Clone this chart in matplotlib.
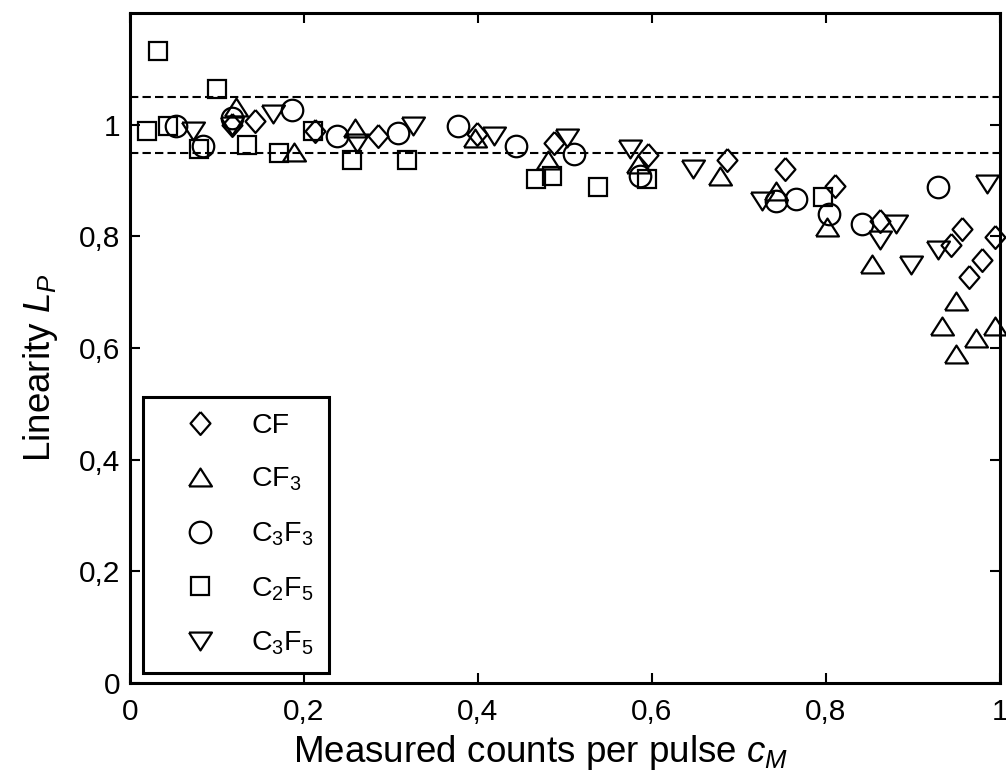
import matplotlib
matplotlib.use('Agg')
import matplotlib.pyplot as plt

plt.rcParams['font.family'] = ['Liberation Sans', 'DejaVu Sans']
plt.rcParams['mathtext.fontset'] = 'custom'
plt.rcParams['mathtext.rm'] = 'Liberation Sans'
plt.rcParams['mathtext.it'] = 'Liberation Sans:italic'

# data
cf_x = [0.118, 0.144, 0.213, 0.285, 0.399, 0.487, 0.596, 0.686, 0.753, 0.810, 0.862, 0.944, 0.956, 0.964, 0.979, 0.994]
cf_y = [1.000, 1.007, 0.988, 0.980, 0.984, 0.968, 0.945, 0.936, 0.921, 0.891, 0.828, 0.784, 0.813, 0.727, 0.757, 0.798]

cf3_x = [0.122, 0.189, 0.259, 0.397, 0.481, 0.584, 0.678, 0.743, 0.801, 0.853, 0.933, 0.950, 0.950, 0.973, 0.994]
cf3_y = [1.031, 0.952, 0.995, 0.977, 0.936, 0.930, 0.909, 0.882, 0.816, 0.751, 0.640, 0.589, 0.685, 0.617, 0.640]

c3f3_x = [0.053, 0.084, 0.117, 0.187, 0.238, 0.308, 0.377, 0.444, 0.510, 0.586, 0.743, 0.766, 0.803, 0.841, 0.929]
c3f3_y = [0.998, 0.962, 1.012, 1.026, 0.979, 0.986, 0.997, 0.962, 0.947, 0.909, 0.864, 0.867, 0.840, 0.822, 0.889]

c2f5_x = [0.032, 0.020, 0.044, 0.079, 0.100, 0.135, 0.171, 0.211, 0.255, 0.319, 0.467, 0.485, 0.538, 0.594, 0.797]
c2f5_y = [1.132, 0.988, 0.998, 0.956, 1.065, 0.964, 0.950, 0.989, 0.937, 0.936, 0.903, 0.909, 0.888, 0.903, 0.870]

c3f5_x = [0.073, 0.117, 0.165, 0.261, 0.326, 0.418, 0.502, 0.575, 0.647, 0.726, 0.862, 0.881, 0.898, 0.929, 0.985]
c3f5_y = [0.989, 0.998, 1.019, 0.968, 0.998, 0.980, 0.977, 0.956, 0.920, 0.864, 0.793, 0.822, 0.748, 0.776, 0.894]

labels = ['CF', 'CF$_3$', 'C$_3$F$_3$', 'C$_2$F$_5$', 'C$_3$F$_5$']
xticks = [0, 0.2, 0.4, 0.6, 0.8, 1]
xticklabels = ['0', '0,2', '0,4', '0,6', '0,8', '1']
yticks = [0, 0.2, 0.4, 0.6, 0.8, 1]
yticklabels = ['0', '0,2', '0,4', '0,6', '0,8', '1']
limits = [0.95, 1.05]

# matlab-ish marker shapes
diamond = [(0, 1), (0.87, 0), (0, -1), (-0.87, 0), (0, 1)]
tri_up = [(-1, -0.78), (1, -0.78), (0, 0.78), (-1, -0.78)]
tri_dn = [(-1, 0.78), (1, 0.78), (0, -0.78), (-1, 0.78)]

fig = plt.figure(figsize=(10.06, 7.75), dpi=100)
ax = fig.add_axes([0.129, 0.119, 0.865, 0.864])

series = [
    (cf_x, cf_y, diamond, 16.5),
    (cf3_x, cf3_y, tri_up, 16.5),
    (c3f3_x, c3f3_y, 'o', 15.5),
    (c2f5_x, c2f5_y, 's', 12.5),
    (c3f5_x, c3f5_y, tri_dn, 16.5),
]
for (xs, ys, m, ms), lab in zip(series, labels):
    ax.plot(xs, ys, linestyle='none', marker=m, markersize=ms, markerfacecolor='none',
            markeredgecolor='black', markeredgewidth=1.6, label=lab, clip_on=False)

for v in limits:
    ax.axhline(v, color='black', linestyle=(0, (4, 2)), linewidth=1.5)

ax.set_xlim(0, 1)
ax.set_ylim(0, 1.2)
ax.set_xticks(xticks)
ax.set_xticklabels(xticklabels)
ax.set_yticks(yticks)
ax.set_yticklabels(yticklabels)
ax.tick_params(direction='in', length=7, width=1.5, labelsize=21.5, top=True, right=True)
ax.tick_params(axis='x', pad=11)
ax.tick_params(axis='y', pad=7)
for s in ax.spines.values():
    s.set_linewidth(2.2)

ax.set_xlabel('Measured counts per pulse $c_M$', fontsize=26.5)
ax.xaxis.set_label_coords(0.472, -0.075)
ax.set_ylabel('Linearity $L_P$', fontsize=26.5)
ax.yaxis.set_label_coords(-0.08, 0.47)

leg = ax.legend(loc='lower left', bbox_to_anchor=(0.015, 0.015), borderaxespad=0,
                fontsize=20.5, frameon=True, fancybox=False, framealpha=1,
                edgecolor='black', handlelength=2.9, handletextpad=0.35,
                labelspacing=0.95, borderpad=0.55)
leg.get_frame().set_linewidth(2.2)

fig.savefig('out.png', dpi=100)
